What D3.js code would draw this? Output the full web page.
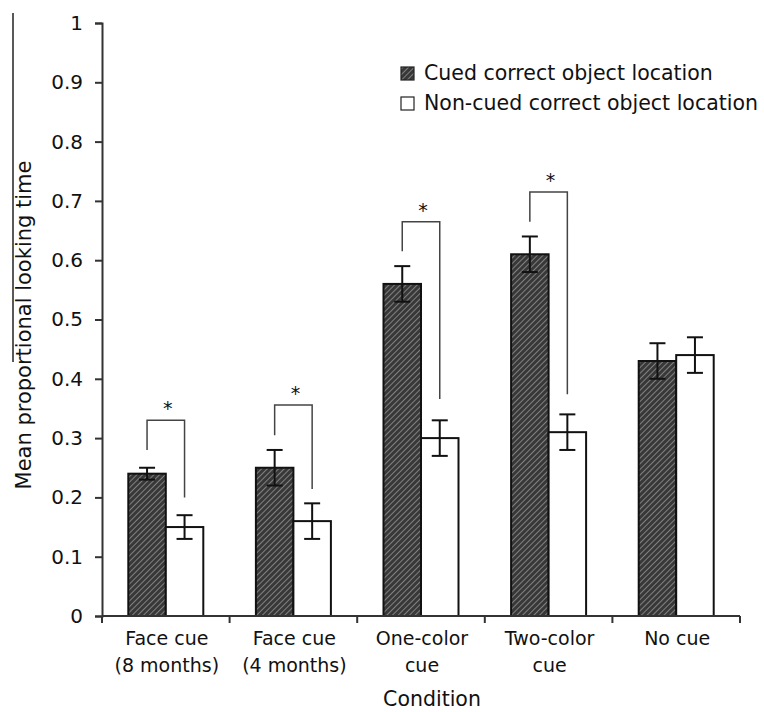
<!DOCTYPE html>
<html>
<head>
<meta charset="utf-8">
<script src="https://cdn.jsdelivr.net/npm/d3@7"></script>
<style>
  body { margin: 0; background: #fff; }
  text { font-family: "DejaVu Sans", sans-serif; fill: #111; }
</style>
</head>
<body>
<svg id="chart" width="764" height="712"></svg>
<script>
// data
var conditions = [["Face cue", "(8 months)"], ["Face cue", "(4 months)"], ["One-color", "cue"], ["Two-color", "cue"], ["No cue"]];
var cuedMeans = [0.24, 0.25, 0.56, 0.61, 0.43];
var cuedErr = [0.01, 0.03, 0.03, 0.03, 0.03];
var noncuedMeans = [0.15, 0.16, 0.30, 0.31, 0.44];
var noncuedErr = [0.02, 0.03, 0.03, 0.03, 0.03];
// significance brackets: [top, left leg end, right leg end] for first four conditions
var bracketTop = [0.33, 0.356, 0.665, 0.715];
var bracketLeft = [0.28, 0.305, 0.615, 0.665];
var bracketRight = [0.20, 0.214, 0.366, 0.374];
var yTicks = [0, 0.1, 0.2, 0.3, 0.4, 0.5, 0.6, 0.7, 0.8, 0.9, 1];
var legendLabels = ["Cued correct object location", "Non-cued correct object location"];

var svg = d3.select("#chart");

var defs = svg.append("defs");
var pat = defs.append("pattern")
  .attr("id", "hatch")
  .attr("patternUnits", "userSpaceOnUse")
  .attr("width", 4).attr("height", 4)
  .attr("patternTransform", "rotate(45)");
pat.append("rect").attr("width", 4).attr("height", 4).attr("fill", "#383838");
pat.append("line").attr("x1", 0).attr("y1", 0).attr("x2", 0).attr("y2", 4)
  .attr("stroke", "#999").attr("stroke-width", 1.5);

var x = d3.scaleBand().domain(d3.range(conditions.length)).range([102, 740]);
var y = d3.scaleLinear().domain([0, 1]).range([616, 23]);
var barW = 37.5;

// stray line at the far left
svg.append("line").attr("x1", 13).attr("x2", 13).attr("y1", 13).attr("y2", 362)
  .attr("stroke", "#222").attr("stroke-width", 1.5);

// y axis
var yAxis = svg.append("g").attr("transform", "translate(102,0)")
  .call(d3.axisLeft(y).tickValues(yTicks).tickSize(7).tickPadding(12)
    .tickFormat(function (d) { return d === 0 || d === 1 ? d3.format("d")(d) : d3.format(".1f")(d); }));
yAxis.select(".domain").attr("stroke", "#333").attr("stroke-width", 2);
yAxis.selectAll(".tick line").attr("stroke", "#333").attr("stroke-width", 2);
yAxis.selectAll(".tick text").style("font-size", "20px").style("font-family", "DejaVu Sans, sans-serif").attr("fill", "#111");

var g = svg.append("g");
conditions.forEach(function (c, i) {
  var cx = x(i) + x.bandwidth() / 2;
  g.append("rect").attr("x", cx - barW).attr("y", y(cuedMeans[i]))
    .attr("width", barW).attr("height", y(0) - y(cuedMeans[i]))
    .attr("fill", "url(#hatch)").attr("stroke", "#111").attr("stroke-width", 2);
  g.append("rect").attr("x", cx).attr("y", y(noncuedMeans[i]))
    .attr("width", barW).attr("height", y(0) - y(noncuedMeans[i]))
    .attr("fill", "#fff").attr("stroke", "#111").attr("stroke-width", 2);
  [[cx - barW / 2, cuedMeans[i], cuedErr[i]], [cx + barW / 2, noncuedMeans[i], noncuedErr[i]]].forEach(function (e) {
    var ex = e[0], lo = y(e[1] - e[2]), hi = y(e[1] + e[2]);
    g.append("line").attr("x1", ex).attr("x2", ex).attr("y1", lo).attr("y2", hi).attr("stroke", "#111").attr("stroke-width", 2);
    g.append("line").attr("x1", ex - 8).attr("x2", ex + 8).attr("y1", lo).attr("y2", lo).attr("stroke", "#111").attr("stroke-width", 2);
    g.append("line").attr("x1", ex - 8).attr("x2", ex + 8).attr("y1", hi).attr("y2", hi).attr("stroke", "#111").attr("stroke-width", 2);
  });
});

// significance brackets
bracketTop.forEach(function (t, i) {
  var cx = x(i) + x.bandwidth() / 2;
  var xl = cx - barW / 2, xr = cx + barW / 2;
  g.append("path")
    .attr("d", "M" + xl + "," + y(bracketLeft[i]) + "V" + y(t) + "H" + xr + "V" + y(bracketRight[i]))
    .attr("fill", "none").attr("stroke", "#444").attr("stroke-width", 1.5);
  g.append("text").attr("x", cx + 2).attr("y", y(t) - 5).attr("text-anchor", "middle")
    .style("font-size", "19px").attr("fill", "#333").text("*");
});

// x axis
var xAxis = svg.append("g").attr("transform", "translate(0,616)");
xAxis.append("line").attr("x1", 102).attr("x2", 740).attr("stroke", "#333").attr("stroke-width", 2);
xAxis.selectAll(".xt").data(d3.range(conditions.length + 1)).enter().append("line")
  .attr("x1", function (d) { return 102 + d * x.bandwidth(); })
  .attr("x2", function (d) { return 102 + d * x.bandwidth(); })
  .attr("y1", 0).attr("y2", 7).attr("stroke", "#333").attr("stroke-width", 2);
conditions.forEach(function (c, i) {
  var t = xAxis.append("text").attr("text-anchor", "middle").attr("y", 29).style("font-size", "19px");
  c.forEach(function (line, k) {
    t.append("tspan").attr("x", x(i) + x.bandwidth() / 2 + 1).attr("dy", k === 0 ? 0 : 27).text(line);
  });
});

svg.append("text").attr("x", 432).attr("y", 706).attr("text-anchor", "middle")
  .style("font-size", "20.5px").text("Condition");

svg.append("text").attr("transform", "translate(31,325) rotate(-90)").attr("text-anchor", "middle")
  .style("font-size", "21px").text("Mean proportional looking time");

// legend
var leg = svg.append("g");
legendLabels.forEach(function (l, i) {
  var ly = 67 + i * 30;
  leg.append("rect").attr("x", 401).attr("y", ly).attr("width", 13).attr("height", 13)
    .attr("fill", i === 0 ? "url(#hatch)" : "#fff").attr("stroke", "#222").attr("stroke-width", 1.2);
  leg.append("text").attr("x", 424).attr("y", ly + 13).style("font-size", "20.5px").text(l);
});
</script>
</body>
</html>
